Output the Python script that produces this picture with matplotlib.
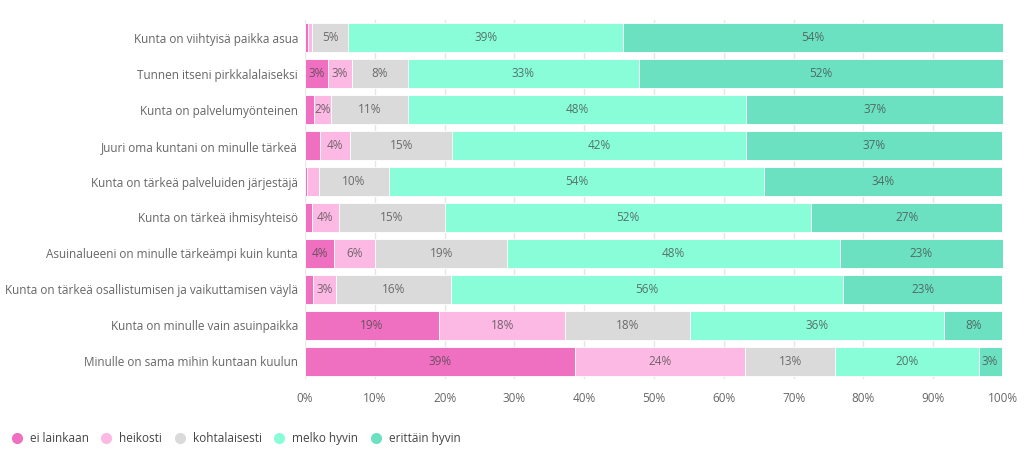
import matplotlib
matplotlib.use("Agg")
import matplotlib.pyplot as plt
from matplotlib.lines import Line2D
import numpy as np

categories = [
    "Kunta on viihtyisä paikka asua",
    "Tunnen itseni pirkkalalaiseksi",
    "Kunta on palvelumyönteinen",
    "Juuri oma kuntani on minulle tärkeä",
    "Kunta on tärkeä palveluiden järjestäjä",
    "Kunta on tärkeä ihmisyhteisö",
    "Asuinalueeni on minulle tärkeämpi kuin kunta",
    "Kunta on tärkeä osallistumisen ja vaikuttamisen väylä",
    "Kunta on minulle vain asuinpaikka",
    "Minulle on sama mihin kuntaan kuulun",
]
series_names = ["ei lainkaan", "heikosti", "kohtalaisesti", "melko hyvin", "erittäin hyvin"]
ei_lainkaan = [0.4, 3.3, 1.3, 2.1, 0.3, 1.0, 4.2, 1.1, 19.2, 38.7]
heikosti = [0.6, 3.4, 2.4, 4.4, 1.7, 3.8, 5.9, 3.4, 18.1, 24.4]
kohtalaisesti = [5.2, 8.1, 11.1, 14.6, 10.0, 15.3, 18.9, 16.4, 17.9, 12.9]
melko_hyvin = [39.4, 33.0, 48.4, 42.1, 53.8, 52.4, 47.6, 56.2, 36.4, 20.5]
erittain_hyvin = [54.4, 52.2, 36.8, 36.7, 34.1, 27.4, 23.4, 22.8, 8.3, 3.3]
x_ticks = [0, 10, 20, 30, 40, 50, 60, 70, 80, 90, 100]

colors = ["#ef6fc1", "#fbb9e3", "#dadada", "#88fdd7", "#6ce1c2"]
label_min = 2.2

plt.rcParams["font.family"] = ["Open Sans", "DejaVu Sans"]

fig = plt.figure(figsize=(10.24, 4.51), dpi=100)
ax = fig.add_axes([305 / 1024, 1 - 379 / 451, 698 / 1024, 359 / 451])

data = [ei_lainkaan, heikosti, kohtalaisesti, melko_hyvin, erittain_hyvin]
y = np.arange(len(categories))
left = np.zeros(len(categories))
for name, vals, col in zip(series_names, data, colors):
    vals = np.array(vals)
    ax.barh(y, vals, left=left, height=0.81, color=col, edgecolor="white",
            linewidth=0.6, zorder=2, label=name)
    for yi, (l, v) in enumerate(zip(left, vals)):
        if v >= label_min:
            ax.text(l + v / 2, yi, f"{round(v)}%", ha="center", va="center",
                    fontsize=8.5, color="#444444", alpha=0.75, zorder=3)
    left += vals

ax.set_xlim(0, 100)
ax.set_ylim(len(categories) - 0.5, -0.5)
ax.set_yticks(y)
ax.set_yticklabels(categories, fontsize=8.5, color="#666666")
ax.set_xticks(x_ticks)
ax.set_xticklabels([f"{t}%" for t in x_ticks], fontsize=8.5, color="#666666")
ax.tick_params(axis="both", length=0)
ax.tick_params(axis="y", pad=5)
ax.tick_params(axis="x", pad=9)
ax.xaxis.grid(True, color="#e6e6e6", linewidth=1, zorder=0)
ax.set_axisbelow(True)
for s in ax.spines.values():
    s.set_visible(False)

handles = [Line2D([], [], marker="o", linestyle="none", markersize=7,
                  markerfacecolor=c, markeredgecolor=c) for c in colors]
fig.legend(handles, series_names, loc="lower left", bbox_to_anchor=(0.0, -0.01),
           ncol=5, frameon=False, fontsize=8.5, labelcolor="#444444",
           handletextpad=0.6, columnspacing=1.0, handlelength=1.0)

fig.savefig("out.png", dpi=100, facecolor="white")
